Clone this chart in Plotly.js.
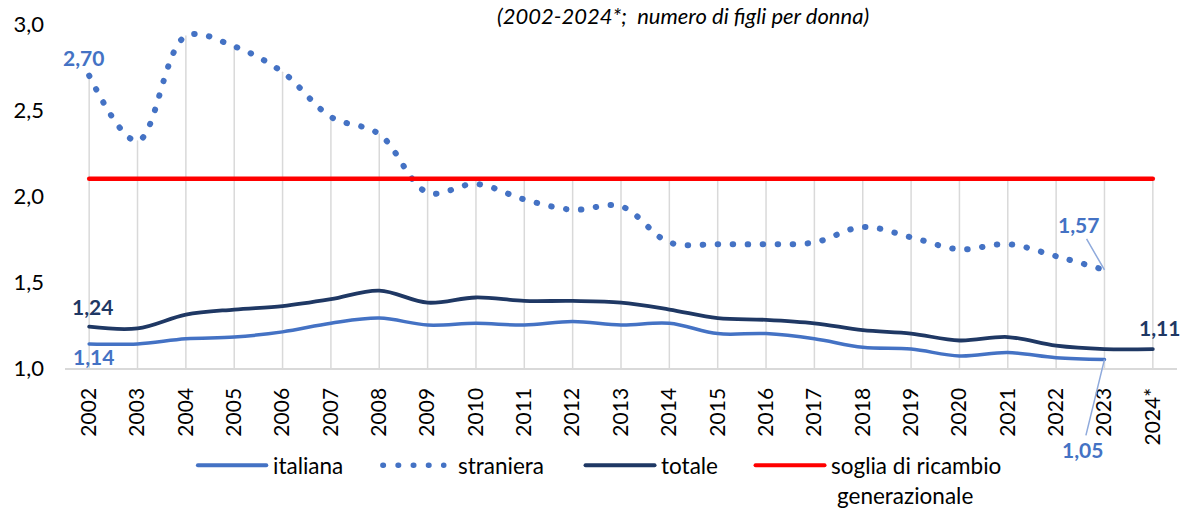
<!DOCTYPE html>
<html>
<head>
<meta charset="utf-8">
<script src="https://cdn.plot.ly/plotly-3.0.1.min.js"></script>
<style>
  html, body { margin: 0; padding: 0; background: #fff; }
  #chart { width: 1185px; height: 509px; }
  .js-line, .shapelayer path { stroke-linecap: round !important; stroke-linejoin: round !important; }
</style>
</head>
<body>
<div id="chart"></div>
<script>
// ---- data ----
const years = ["2002","2003","2004","2005","2006","2007","2008","2009","2010","2011","2012",
               "2013","2014","2015","2016","2017","2018","2019","2020","2021","2022","2023","2024*"];
const italiana  = [1.14,1.14,1.17,1.18,1.21,1.26,1.29,1.25,1.26,1.25,1.27,1.25,1.26,1.20,1.20,1.17,1.12,1.11,1.07,1.09,1.06,1.05];
const straniera = [2.70,2.32,2.93,2.87,2.72,2.46,2.36,2.02,2.07,1.98,1.92,1.94,1.73,1.72,1.72,1.73,1.82,1.76,1.69,1.72,1.65,1.57];
const totale    = [1.24,1.23,1.31,1.34,1.36,1.40,1.45,1.38,1.41,1.39,1.39,1.38,1.34,1.29,1.28,1.26,1.22,1.20,1.16,1.18,1.13,1.11,1.11];
const soglia    = [2.1,2.1,2.1,2.1,2.1,2.1,2.1,2.1,2.1,2.1,2.1,2.1,2.1,2.1,2.1,2.1,2.1,2.1,2.1,2.1,2.1,2.1,2.1];
const seriesNames = ["italiana", "straniera", "totale", "soglia di ricambio", "generazionale"];
const titleText = "(2002-2024*;\u00a0\u00a0numero di figli per donna)";

// ---- style ----
const FONT = "Lato, 'Open Sans', 'DejaVu Sans', sans-serif";
const C_IT = "#4472C4", C_TOT = "#1F3864", C_RED = "#FF0000", C_GRID = "#D9D9D9", C_LEAD = "#8FAADC";
const M = { l: 65.4, r: 7.5, t: 23.7, b: 141.3 };
const W = 1185, H = 509;
const PW = W - M.l - M.r, PH = H - M.t - M.b;
const px2x = px => (px - M.l) / PW;
const py2y = py => (H - M.b - py) / PH;
const fmt = v => v.toFixed(2).replace(".", ",");

// drop lines: from axis base to the highest value of each category
const dropX = [], dropY = [];
years.forEach((yr, i) => {
  const vals = [italiana[i], straniera[i], totale[i], soglia[i]].filter(v => v !== undefined && v !== null);
  dropX.push(yr, yr, null);
  dropY.push(1, Math.max(...vals), null);
});

const traces = [
  { x: dropX, y: dropY, mode: "lines", line: { color: C_GRID, width: 1.5 }, hoverinfo: "skip", showlegend: false },
  { x: years.slice(0, italiana.length), y: italiana, mode: "lines", name: seriesNames[0],
    line: { color: C_IT, width: 3.5, shape: "spline", smoothing: 1 } },
  { x: years.slice(0, straniera.length), y: straniera, mode: "lines", name: seriesNames[1],
    line: { color: C_IT, width: 6, shape: "spline", smoothing: 1, dash: "0.5px,14.5px" } },
  { x: years, y: totale, mode: "lines", name: seriesNames[2],
    line: { color: C_TOT, width: 3.8, shape: "spline", smoothing: 1 } },
  { x: years, y: soglia, mode: "lines", name: seriesNames[3] + " " + seriesNames[4],
    line: { color: C_RED, width: 4.5 } }
];

const lastIt = italiana.length - 1, lastSt = straniera.length - 1, lastTot = totale.length - 1;
const lblFont = (c) => ({ family: FONT, size: 21, color: c, weight: 700 });
// category positions given by index (numeric-looking category names would be read as indices)
const annotations = [
  { x: 0, y: straniera[0], text: "<b>" + fmt(straniera[0]) + "</b>", showarrow: false,
    xshift: -6, yshift: 18, font: lblFont(C_IT) },
  { x: 0, y: totale[0], text: "<b>" + fmt(totale[0]) + "</b>", showarrow: false,
    xshift: 3, yshift: 20, font: lblFont(C_TOT) },
  { x: 0, y: italiana[0], text: "<b>" + fmt(italiana[0]) + "</b>", showarrow: false,
    xshift: 4, yshift: -13, font: lblFont(C_IT) },
  { x: lastTot, y: totale[lastTot], text: "<b>" + fmt(totale[lastTot]) + "</b>", showarrow: false,
    xshift: 7, yshift: 22, font: lblFont(C_TOT) },
  { x: lastSt, y: straniera[lastSt], text: "<b>" + fmt(straniera[lastSt]) + "</b>",
    showarrow: true, arrowhead: 0, arrowwidth: 1.5, arrowcolor: C_LEAD, ax: -26, ay: -45, standoff: 0, font: lblFont(C_IT) },
  { x: lastIt, y: italiana[lastIt], text: "<b>" + fmt(italiana[lastIt]) + "</b>",
    showarrow: true, arrowhead: 0, arrowwidth: 1.5, arrowcolor: C_LEAD, ax: -22, ay: 90, standoff: 0, font: lblFont(C_IT) },
  // title (the reference shows it partly cropped at the top; kept fully visible here)
  { xref: "paper", yref: "paper", x: px2x(683), y: py2y(15), text: "<i>" + titleText + "</i>", showarrow: false,
    xanchor: "center", yanchor: "middle", font: { family: FONT, size: 22, color: "#000", style: "italic" } }
];

// custom legend
const legendFont = { family: FONT, size: 22.5, color: "#000" };
const shapes = [];
function legLine(x0, x1, y, color, width, dash) {
  shapes.push({ type: "line", xref: "paper", yref: "paper", x0: px2x(x0), x1: px2x(x1), y0: py2y(y), y1: py2y(y),
    line: { color: color, width: width, dash: dash || "solid" } });
}
function legText(x, y, t) {
  annotations.push({ xref: "paper", yref: "paper", x: px2x(x), y: py2y(y), text: t, showarrow: false,
    xanchor: "left", yanchor: "middle", font: legendFont });
}
legLine(198.3, 266.7, 465, C_IT, 4);
legText(271, 465, seriesNames[0]);
legLine(383.3, 444.2, 465, C_IT, 5.5, "0.5px,14.7px");
legText(456, 465, seriesNames[1]);
legLine(586, 655, 465, C_TOT, 4);
legText(659, 465, seriesNames[2]);
legLine(756, 825, 465, C_RED, 4);
legText(829, 465, seriesNames[3]);
legText(835, 495, seriesNames[4]);

const layout = {
  width: W, height: H,
  margin: M,
  paper_bgcolor: "#fff", plot_bgcolor: "#fff",
  separators: ",.",
  showlegend: false,
  font: { family: FONT, size: 21, color: "#000" },
  xaxis: {
    type: "category", categoryorder: "array", categoryarray: years,
    range: [-0.5, years.length - 0.5],
    showgrid: false, zeroline: false, showline: true, linecolor: C_GRID, linewidth: 1.5,
    ticks: "", tickangle: -90, ticklabelstandoff: 10,
    tickfont: { family: FONT, size: 21, color: "#000" }
  },
  yaxis: {
    range: [1, 3], dtick: 0.5, tick0: 1, tickformat: ".1f",
    showgrid: false, zeroline: false, showline: false, ticks: "", ticklabelstandoff: 20,
    tickfont: { family: FONT, size: 22, color: "#000" }
  },
  annotations: annotations,
  shapes: shapes
};

Plotly.newPlot("chart", traces, layout, { staticPlot: true, displayModeBar: false });
</script>
</body>
</html>
